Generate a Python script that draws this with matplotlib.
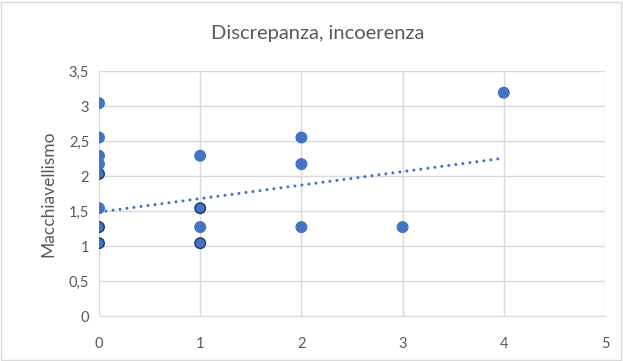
import numpy as np
import matplotlib
matplotlib.use("Agg")
import matplotlib.pyplot as plt
from matplotlib.ticker import FuncFormatter

# Discrepanza (x) vs Macchiavellismo (y); repeated pairs are listed as many times as they occur
discrepanza = ([0] * 19 +
               [1] * 8 +
               [2] * 3 +
               [3] +
               [4])
macchiavellismo = ([3.04, 2.55, 2.29, 2.17, 2.03, 2.03, 2.03, 1.54, 1.27, 1.27, 1.27,
                    1.04, 1.04, 1.04, 1.04, 1.04, 1.04, 1.04, 1.04] +
                   [2.29, 1.54, 1.54, 1.54, 1.27, 1.04, 1.04, 1.04] +
                   [2.55, 2.17, 1.27] +
                   [1.27] +
                   [3.19])

x_ticks = [0, 1, 2, 3, 4, 5]
y_ticks = [0, 0.5, 1, 1.5, 2, 2.5, 3, 3.5]

blue = "#4472C4"
grid = "#D9D9D9"
text_col = "#595959"

plt.rcParams["font.family"] = ["Lato", "DejaVu Sans"]

fig = plt.figure(figsize=(6.23, 3.61), dpi=100)
ax = fig.add_axes([99 / 623, 1 - 316 / 361, (605 - 99) / 623, (316 - 71) / 361])

x = np.array(discrepanza, dtype=float)
y = np.array(macchiavellismo, dtype=float)

# unique points, outlined darker where several observations coincide
pairs, counts = np.unique(np.column_stack([x, y]), axis=0, return_counts=True)
edge = [("#1F3864" if c > 1 else blue) for c in counts]
ax.scatter(pairs[:, 0], pairs[:, 1], s=58, c=blue, edgecolors=edge,
           linewidths=1.0, zorder=3)

# linear trend line over the observed x range
slope, intercept = np.polyfit(x, y, 1)
xt = np.array([x.min(), x.max()])
ax.plot(xt, intercept + slope * xt, color=blue, lw=2.2,
        linestyle=(0, (0.01, 2.3)), dash_capstyle="round", zorder=2)

ax.set_xlim(0, 5)
ax.set_ylim(0, 3.5)
ax.set_xticks(x_ticks)
ax.set_yticks(y_ticks)
fmt = FuncFormatter(lambda v, p: (f"{v:g}").replace(".", ","))
ax.xaxis.set_major_formatter(fmt)
ax.yaxis.set_major_formatter(fmt)

ax.grid(True, color=grid, lw=1.0, zorder=0)
ax.set_axisbelow(True)
for side in ["top", "right", "left"]:
    ax.spines[side].set_visible(False)
ax.spines["bottom"].set_color(grid)
ax.tick_params(length=0, labelsize=10.5, colors=text_col)
ax.tick_params(axis="x", pad=15)
ax.tick_params(axis="y", pad=7)

ax.set_ylabel("Macchiavellismo", fontsize=12.5, color=text_col, labelpad=9)
fig.text(318 / 623, 1 - 33 / 361, "Discrepanza, incoerenza", ha="center",
         va="center", fontsize=14.5, color=text_col)

# chart frame
fig.patches.append(plt.Rectangle((1 / 623, 1 / 361), 620 / 623, 358 / 361,
                                 transform=fig.transFigure, fill=False,
                                 edgecolor=grid, lw=1.0))

fig.savefig("out.png", dpi=100)
